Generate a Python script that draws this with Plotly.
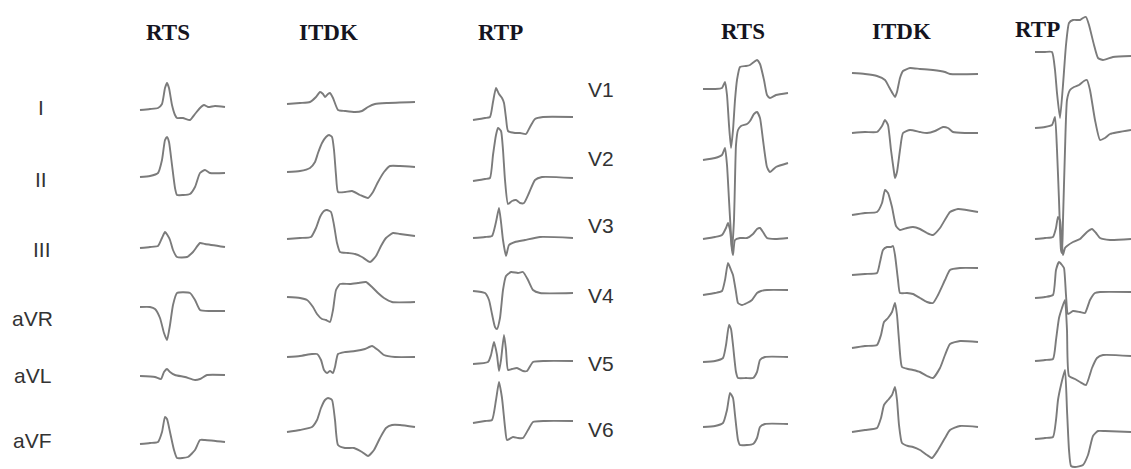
import plotly.graph_objects as go

# ---------------- DATA (time in ms, amplitude in mm) ----------------
CONDITIONS = ["RTS", "ITDK", "RTP"]
LIMB_LEADS = ["I", "II", "III", "aVR", "aVL", "aVF"]
CHEST_LEADS = ["V1", "V2", "V3", "V4", "V5", "V6"]

# --- limb leads, RTS ---
I_RTS_T = [0, 40, 72, 88, 100, 108, 116, 128, 140, 148, 172, 200, 220, 240, 256, 272, 300, 340]
I_RTS_A = [0, 0.5, 1, 3, 11, 13.5, 11, 2.5, -2.5, -4, -4, -5, -2, 1, 2.5, 1.5, 2, 1.5]
II_RTS_T = [0, 40, 72, 88, 100, 108, 116, 128, 140, 148, 172, 200, 220, 240, 260, 280, 340]
II_RTS_A = [0, 0.5, 2, 8.5, 18.5, 20, 17.5, 6, -5.5, -9, -9, -8.5, -5, 2, 3.5, 2, 2]
III_RTS_T = [0, 40, 72, 88, 100, 112, 120, 132, 148, 188, 212, 240, 260, 340]
III_RTS_A = [0, 0.5, 1, 5, 8, 6, 4, -1, -4.5, -4.5, -2, 2.5, 2, 0.5]
AVR_RTS_T = [0, 40, 60, 80, 96, 108, 120, 132, 148, 200, 220, 240, 280, 340]
AVR_RTS_A = [0, 0, -1, -5.5, -13, -16.5, -9, 1, 7, 7, 3.5, -1.5, -2, -2]
AVL_RTS_T = [0, 60, 84, 96, 108, 120, 140, 180, 220, 240, 268, 340]
AVL_RTS_A = [0, -0.5, -1.5, 2, 3.5, 2, 0.5, -0.5, -2, -1.5, 0.5, 0.5]
AVF_RTS_T = [0, 40, 72, 88, 100, 108, 120, 136, 148, 192, 220, 240, 260, 340]
AVF_RTS_A = [0, 0.5, 1, 6, 13.5, 12.5, 6, -3, -7, -6.5, -3, 2, 2, 1]

# --- limb leads, ITDK ---
I_ITDK_T = [0, 52, 92, 116, 132, 144, 152, 164, 172, 184, 204, 232, 272, 300, 324, 352, 400, 512]
I_ITDK_A = [3, 3.5, 4, 6.5, 9, 8, 6.5, 8, 8.5, 6, 0, -0.5, -1, -0.5, 1.5, 3, 3.5, 4]
II_ITDK_T = [0, 52, 92, 112, 124, 140, 156, 168, 180, 188, 196, 204, 232, 260, 292, 324, 344, 364, 388, 412, 452, 512]
II_ITDK_A = [2.5, 3, 4.5, 7.5, 12, 17, 20, 21, 20, 13.5, 1, -7.5, -7.5, -7, -9, -10.5, -7.5, -2.5, 2.5, 5.5, 5.5, 5]
III_ITDK_T = [0, 52, 96, 116, 132, 148, 160, 176, 188, 200, 212, 244, 272, 300, 332, 356, 376, 396, 424, 452, 512]
III_ITDK_A = [4.5, 5, 5.5, 10, 15.5, 18.5, 19, 18, 11.5, 2.5, -2, -2.5, -3, -4.5, -7, -4, 1, 5, 7.5, 7, 6]
AVR_ITDK_T = [0, 52, 80, 104, 120, 140, 156, 172, 184, 196, 212, 252, 284, 316, 340, 364, 388, 420, 512]
AVR_ITDK_A = [5, 4.5, 3.5, 0, -3.5, -6, -6.5, -7.5, -1.5, 8.5, 11.5, 11.5, 12, 12.5, 10, 7, 4.5, 2.5, 2.5]
AVL_ITDK_T = [0, 52, 100, 120, 136, 148, 160, 172, 184, 192, 204, 232, 272, 312, 340, 364, 388, 432, 512]
AVL_ITDK_A = [9.5, 10, 11, 11, 8, 3, 1.5, 2.5, 1.5, 4.5, 11, 12, 12.5, 13.5, 15, 13, 10.5, 9.5, 9.5]
AVF_ITDK_T = [0, 52, 100, 120, 136, 152, 164, 180, 192, 204, 232, 268, 300, 324, 348, 372, 396, 420, 452, 512]
AVF_ITDK_A = [6, 7, 8.5, 12, 18, 22, 23, 22, 12, -0.5, -2, -2, -4, -6, -3, 3, 8, 9.5, 9.5, 8.5]

# --- limb leads, RTP ---
I_RTP_T = [0, 48, 68, 80, 92, 104, 116, 124, 132, 140, 168, 188, 212, 228, 248, 280, 400]
I_RTP_A = [-5, -4, -3.5, 4, 11, 8, 6, 3.5, -4, -10.5, -11.5, -11.5, -12, -8.5, -4.5, -3.5, -3.5]
II_RTP_T = [0, 48, 68, 80, 92, 100, 112, 120, 128, 140, 156, 172, 188, 204, 224, 248, 276, 400]
II_RTP_A = [-2, -1, -0.5, 11, 21, 24.5, 23, 13.5, -1.5, -13.5, -12, -11.5, -13, -13, -8, -1.5, 0, -0.5]
III_RTP_T = [0, 48, 76, 92, 104, 112, 120, 132, 144, 168, 208, 268, 400]
III_RTP_A = [5, 5.5, 6, 13, 20, 13, 4, -4, 1.5, 3, 4, 5.5, 5]
AVR_RTP_T = [0, 48, 64, 76, 88, 96, 108, 120, 132, 152, 180, 200, 220, 240, 268, 400]
AVR_RTP_A = [8, 7, 3.5, -3.5, -10, -11, -5.5, 8.5, 15.5, 17.5, 17, 17.5, 13.5, 8.5, 7, 7]
AVL_RTP_T = [0, 60, 72, 84, 96, 104, 112, 124, 132, 140, 156, 176, 200, 216, 240, 288, 400]
AVL_RTP_A = [6, 7, 10.5, 17, 10.5, 2.5, 8, 20.5, 13, 3, 3.5, 4, 2.5, 2.5, 7, 7.5, 7.5]
AVF_RTP_T = [0, 48, 76, 92, 104, 116, 128, 136, 160, 180, 200, 220, 240, 288, 400]
AVF_RTP_A = [10.5, 11.5, 12, 22, 31, 23, 8.5, 2, 3.5, 3, 3, 7, 11, 11.5, 11.5]

# --- chest leads, RTS ---
V1_RTS_T = [0, 48, 76, 88, 96, 104, 112, 120, 128, 136, 148, 172, 188, 204, 216, 228, 244, 256, 268, 292, 340]
V1_RTS_A = [0, 0, 0.5, 3.5, -3, -18, -29.5, -20.5, -5.5, 4.5, 11, 11.5, 12, 13.5, 14.5, 12.5, 4.5, -3, -4.5, -3, -2]
V2_RTS_T = [0, 48, 76, 88, 96, 104, 112, 116, 124, 128, 132, 140, 152, 176, 188, 204, 216, 228, 240, 256, 268, 292, 340]
V2_RTS_A = [0, 1, 2.5, 6, -2.5, -20, -37.5, -45, -30, -10, 7.5, 15, 17, 18, 19.5, 23, 24, 21, 10, -3.5, -6, -3.5, -1.5]
V3_RTS_T = [0, 48, 76, 92, 100, 108, 116, 120, 128, 148, 176, 200, 216, 228, 240, 256, 288, 340]
V3_RTS_A = [0, 1, 2, 5.5, 8, 4.5, -5.5, -8, -0.5, 0.5, 0.5, 2.5, 5, 5.5, 3.5, 0.5, 0, 0.5]
V4_RTS_T = [0, 48, 76, 88, 100, 112, 120, 132, 140, 156, 176, 196, 216, 232, 256, 340]
V4_RTS_A = [0, 1, 2, 7.5, 16, 12.5, 10, 1.5, -4, -5, -4, -2.5, 1, 2, 2.5, 2.5]
V5_RTS_T = [0, 48, 80, 92, 104, 112, 120, 132, 140, 172, 200, 216, 228, 248, 340]
V5_RTS_A = [0, 0.5, 2, 8.5, 18.5, 16.5, 8.5, -5, -8, -8, -8, -5, 1, 2.5, 2.5]
V6_RTS_T = [0, 48, 80, 96, 108, 120, 128, 140, 148, 176, 200, 216, 228, 248, 340]
V6_RTS_A = [0, 0.5, 2, 8.5, 17, 14.5, 6, -6.5, -9, -9, -8.5, -5.5, 0, 1.5, 1.5]

# --- chest leads, ITDK ---
V1_ITDK_T = [0, 52, 100, 132, 148, 164, 172, 180, 192, 204, 232, 272, 324, 372, 392, 504]
V1_ITDK_A = [8, 7.5, 6.5, 4.5, 1, -2.5, -4, -1.5, 5.5, 9, 10.5, 10, 9.5, 8.5, 7.5, 7.5]
V2_ITDK_T = [0, 52, 100, 120, 132, 144, 156, 168, 172, 180, 192, 204, 232, 272, 300, 332, 364, 384, 404, 452, 504]
V2_ITDK_A = [13.5, 14, 14, 17, 20, 17.5, 5, -6, -9, -6, 5, 13.5, 15, 14, 13.5, 14.5, 16.5, 16, 14, 13.5, 13.5]
V3_ITDK_T = [0, 52, 100, 120, 132, 144, 160, 176, 192, 220, 244, 272, 300, 324, 352, 376, 392, 424, 504]
V3_ITDK_A = [12, 13, 13.5, 18, 24.5, 23, 16, 6.5, 4.5, 5.5, 6, 5, 3, 2, 5.5, 10.5, 13.5, 15, 13.5]
V4_ITDK_T = [0, 52, 100, 112, 124, 140, 156, 164, 172, 184, 192, 220, 244, 272, 300, 324, 344, 372, 392, 432, 504]
V4_ITDK_A = [10, 10.5, 11, 16.5, 22.5, 24, 24, 24.5, 20, 7.5, 1, 1, 0.5, -1.5, -3.5, -4, 0, 7.5, 12.5, 13.5, 13.5]
V5_ITDK_T = [0, 52, 100, 116, 128, 144, 160, 172, 180, 188, 200, 224, 244, 272, 300, 324, 352, 372, 392, 432, 504]
V5_ITDK_A = [7, 8, 8.5, 13.5, 20, 22, 25, 29.5, 23.5, 11, -2.5, -3.5, -4, -5, -7, -8, -3, 3.5, 9, 10.5, 10]
V6_ITDK_T = [0, 52, 100, 116, 128, 144, 160, 172, 180, 188, 200, 224, 244, 272, 300, 320, 344, 372, 392, 432, 504]
V6_ITDK_A = [-2.5, -1.5, -0.5, 4.5, 11, 13.5, 16, 20, 13.5, 1, -8, -9.5, -10, -11.5, -14, -15.5, -11.5, -5.5, -1.5, 0.5, 0]

# --- chest leads, RTP ---
V1_RTP_T = [0, 40, 68, 80, 88, 100, 112, 124, 136, 152, 180, 192, 204, 216, 236, 252, 272, 312, 384]
V1_RTP_A = [18.5, 18.5, 18.5, 9.5, -2, -14.5, 2, 22, 33, 34.5, 34.5, 35.5, 36, 32, 22, 15.5, 14.5, 16, 16.5]
V2_RTP_T = [0, 40, 68, 80, 88, 96, 104, 108, 112, 120, 128, 140, 156, 176, 196, 208, 220, 240, 260, 280, 300, 384]
V2_RTP_A = [16, 16.5, 17.5, 21.5, 5, -20, -45, -46.5, -30, 5, 30, 35, 36.5, 37.5, 39.5, 40, 35, 20, 10, 11, 13, 15]
V3_RTP_T = [0, 40, 72, 84, 92, 100, 108, 112, 120, 128, 152, 180, 208, 228, 244, 260, 300, 384]
V3_RTP_A = [0, 0.5, 1, 5.5, 11, 9.5, -3, -8, -4.5, -3.5, -1.5, 0, 3.5, 5, 3, 0.5, -0.5, 0]
V4_RTP_T = [0, 40, 72, 84, 96, 108, 116, 124, 132, 152, 180, 200, 220, 240, 260, 384]
V4_RTP_A = [-1.5, -1, 0, 12.5, 16.5, 15, 13.5, 0, -9.5, -8, -8.5, -9, -2.5, 1, 1.5, 1.5]
V5_RTP_T = [0, 40, 72, 84, 96, 108, 120, 128, 136, 160, 180, 204, 228, 248, 272, 384]
V5_RTP_A = [0.5, 1, 1.5, 11, 22, 27, 31, 16, -7, -8.5, -10, -11.5, -3, 2, 3.5, 3]
V6_RTP_T = [0, 40, 72, 84, 92, 104, 120, 128, 136, 144, 160, 192, 212, 232, 252, 280, 384]
V6_RTP_A = [-6, -5.5, -5, 3.5, 13.5, 21, 28.5, 8.5, -11.5, -19.5, -20, -19, -14, -4.5, -2, -2, -2.5]

LIMB_DATA = [
    [(I_RTS_T, I_RTS_A), (I_ITDK_T, I_ITDK_A), (I_RTP_T, I_RTP_A)],
    [(II_RTS_T, II_RTS_A), (II_ITDK_T, II_ITDK_A), (II_RTP_T, II_RTP_A)],
    [(III_RTS_T, III_RTS_A), (III_ITDK_T, III_ITDK_A), (III_RTP_T, III_RTP_A)],
    [(AVR_RTS_T, AVR_RTS_A), (AVR_ITDK_T, AVR_ITDK_A), (AVR_RTP_T, AVR_RTP_A)],
    [(AVL_RTS_T, AVL_RTS_A), (AVL_ITDK_T, AVL_ITDK_A), (AVL_RTP_T, AVL_RTP_A)],
    [(AVF_RTS_T, AVF_RTS_A), (AVF_ITDK_T, AVF_ITDK_A), (AVF_RTP_T, AVF_RTP_A)],
]
CHEST_DATA = [
    [(V1_RTS_T, V1_RTS_A), (V1_ITDK_T, V1_ITDK_A), (V1_RTP_T, V1_RTP_A)],
    [(V2_RTS_T, V2_RTS_A), (V2_ITDK_T, V2_ITDK_A), (V2_RTP_T, V2_RTP_A)],
    [(V3_RTS_T, V3_RTS_A), (V3_ITDK_T, V3_ITDK_A), (V3_RTP_T, V3_RTP_A)],
    [(V4_RTS_T, V4_RTS_A), (V4_ITDK_T, V4_ITDK_A), (V4_RTP_T, V4_RTP_A)],
    [(V5_RTS_T, V5_RTS_A), (V5_ITDK_T, V5_ITDK_A), (V5_RTP_T, V5_RTP_A)],
    [(V6_RTS_T, V6_RTS_A), (V6_ITDK_T, V6_ITDK_A), (V6_RTP_T, V6_RTP_A)],
]

# ---------------- LAYOUT (positions / scales / styles) ----------------
W, H = 1131, 469
PX_PER_MS = 0.25
PX_PER_MM = 2.0
LIMB_COL_X = [140, 287, 473]
CHEST_COL_X = [703, 852, 1035]
LIMB_ROW_Y = [110, 177, 248, 307, 376, 444]
CHEST_ROW_Y = [89, 160, 239, 295, 362, 427]
LIMB_LABEL_X = [41, 41, 42, 32, 32, 32]
LIMB_LABEL_Y = [107, 179, 249, 318, 375, 440]
CHEST_LABEL_X = 601
CHEST_LABEL_Y = [89, 158, 225, 295, 363, 429]
TITLE_POS_LEFT = [(168, 32), (328, 32), (500, 32)]
TITLE_POS_RIGHT = [(743, 31), (901, 31), (1037, 29)]
LINE_COLOR = "#7b7b7b"
LINE_W = 1.9
LABEL_FONT = dict(family="Liberation Sans, Arial, sans-serif", size=21, color="#333333")
TITLE_FONT = dict(family="Liberation Serif, Times New Roman, serif", size=23, color="#15151f")

fig = go.Figure()


def add_panel(data, col_x, row_y):
    for r, row in enumerate(data):
        for c, (t, a) in enumerate(row):
            xs = [col_x[c] + ti * PX_PER_MS for ti in t]
            ys = [row_y[r] - ai * PX_PER_MM for ai in a]
            fig.add_trace(go.Scatter(
                x=xs, y=ys, mode="lines",
                line=dict(color=LINE_COLOR, width=LINE_W, shape="spline", smoothing=0.5),
                hoverinfo="skip", showlegend=False))


add_panel(LIMB_DATA, LIMB_COL_X, LIMB_ROW_Y)
add_panel(CHEST_DATA, CHEST_COL_X, CHEST_ROW_Y)

annotations = []
for name, (x, y) in zip(CONDITIONS, TITLE_POS_LEFT):
    annotations.append(dict(x=x, y=y, text="<b>%s</b>" % name, showarrow=False,
                            xref="x", yref="y", font=TITLE_FONT))
for name, (x, y) in zip(CONDITIONS, TITLE_POS_RIGHT):
    annotations.append(dict(x=x, y=y, text="<b>%s</b>" % name, showarrow=False,
                            xref="x", yref="y", font=TITLE_FONT))
for name, x, y in zip(LIMB_LEADS, LIMB_LABEL_X, LIMB_LABEL_Y):
    annotations.append(dict(x=x, y=y, text=name, showarrow=False,
                            xref="x", yref="y", font=LABEL_FONT))
for name, y in zip(CHEST_LEADS, CHEST_LABEL_Y):
    annotations.append(dict(x=CHEST_LABEL_X, y=y, text=name, showarrow=False,
                            xref="x", yref="y", font=LABEL_FONT))

fig.update_layout(
    width=W, height=H,
    margin=dict(l=0, r=0, t=0, b=0),
    paper_bgcolor="white", plot_bgcolor="white",
    xaxis=dict(range=[0, W], visible=False, fixedrange=True),
    yaxis=dict(range=[H, 0], visible=False, fixedrange=True),
    annotations=annotations,
)

fig.write_html(
    "out.html",
    config={"displayModeBar": False},
    post_script="document.body.style.margin='0px';document.body.style.overflow='hidden';",
)
